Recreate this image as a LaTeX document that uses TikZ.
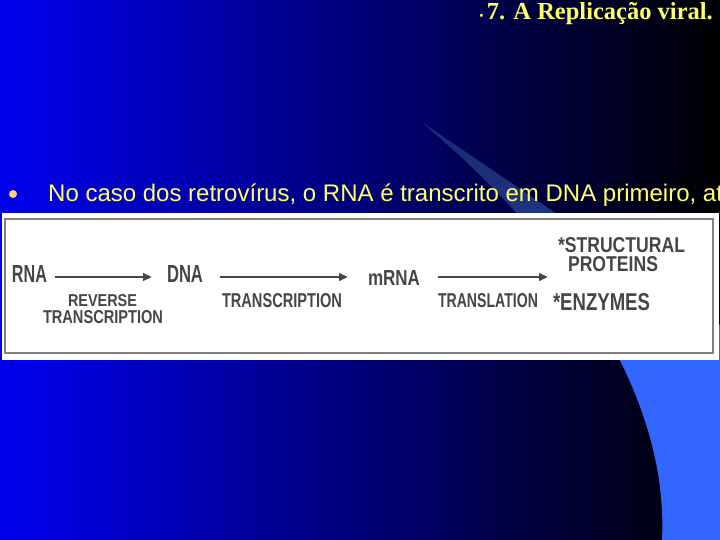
\documentclass[tikz,border=0pt]{standalone}
\usepackage{fontspec}
\usepackage{graphicx}
\setmainfont{Liberation Serif}
\newfontfamily\arialf{Liberation Sans}
\usetikzlibrary{arrows.meta}
\definecolor{bgblue}{RGB}{0,0,240}
\definecolor{bgmid}{RGB}{0,0,160}
\definecolor{swoosh}{RGB}{51,102,255}
\definecolor{swooshdim}{RGB}{50,85,215}
\definecolor{ttl}{RGB}{255,255,102}
\definecolor{bul}{RGB}{255,204,136}
\definecolor{dgray}{RGB}{70,70,70}
\definecolor{bord}{RGB}{130,130,130}
\newcommand{\fitlbl}[3]{\resizebox{#1pt}{#2pt}{\arialf\bfseries #3}}
\tikzset{
  diag/.style={inner sep=0pt, outer sep=0pt, anchor=base west, text=dgray},
  arr/.style={draw=dgray, line width=2.6pt, -{Triangle[length=9pt,width=7.5pt]}},
}
\begin{document}
\begin{tikzpicture}[x=1pt,y=-1pt]
\useasboundingbox (0,0) rectangle (720,540);
\begin{scope}
\clip (0,0) rectangle (720,540);
% background
\shade[left color=bgblue, middle color=bgmid, right color=black] (0,0) rectangle (720,540);
% swoosh
\fill[swoosh] (424,124) -- (720,325) -- (720,540) -- (662,540)
  .. controls (670,380) and (545,225) .. (424,124) -- cycle;
\begin{scope}
\clip (0,0) rectangle (720,213);
\shade[top color=swooshdim!50!black, bottom color=swooshdim] (424,124) -- (720,325) -- (720,540) -- (662,540)
  .. controls (670,380) and (545,225) .. (424,124) -- cycle;
\end{scope}
% title
\node[anchor=base east, inner sep=0pt, text=ttl, font=\bfseries\fontsize{24.5}{27}\selectfont] (title) at (713,20) {7. A Replicação viral.};
\node[anchor=base east, inner sep=0pt, text=ttl, font=\bfseries\fontsize{11}{12}\selectfont] (tbul) at ([xshift=-3pt]title.base west) {•};
% bullet line
\fill[bul] (13,194) circle (4);
\node[anchor=base west, inner sep=0pt, text=ttl, font=\arialf\fontsize{24}{26}\selectfont] (line1) at (48,202) {No caso dos retrovírus, o RNA é transcrito em DNA primeiro, at};
% figure box
\fill[white] (2,213) rectangle (719,360);
\draw[bord, line width=1.5pt] (5,219) rectangle (713,353);
% diagram
\coordinate (row) at (0,277);
\node[diag] (rna) at (12,282) {\fitlbl{35}{17}{RNA}};
\node[diag] (dna) at (167,282) {\fitlbl{36}{17}{DNA}};
\node[diag] (mrna) at (368,285) {\fitlbl{52}{15}{mRNA}};
\node[diag] (rt1) at (68,306) {\fitlbl{69}{12}{REVERSE}};
\node[diag] (rt2) at (43,323) {\fitlbl{120}{13}{TRANSCRIPTION}};
\node[diag] (tr) at (222,307) {\fitlbl{120}{14}{TRANSCRIPTION}};
\node[diag] (tl) at (438,307) {\fitlbl{100}{14}{TRANSLATION}};
\node[diag] (sp1) at (558,252) {\fitlbl{127}{15}{*STRUCTURAL}};
\node[diag] (sp2) at (568,272) {\fitlbl{90}{15}{PROTEINS}};
\node[diag] (enz) at (553,310) {\fitlbl{97}{17}{*ENZYMES}};
\coordinate (prod) at (548,277);
\draw[arr, shorten <=8pt, shorten >=15pt] (rna.east |- row) -- (dna.west |- row);
\draw[arr, shorten <=17pt, shorten >=20pt] (dna.east |- row) -- (mrna.west |- row);
\draw[arr, shorten <=18pt] (mrna.east |- row) -- (prod);
\end{scope}
\end{tikzpicture}
\end{document}
